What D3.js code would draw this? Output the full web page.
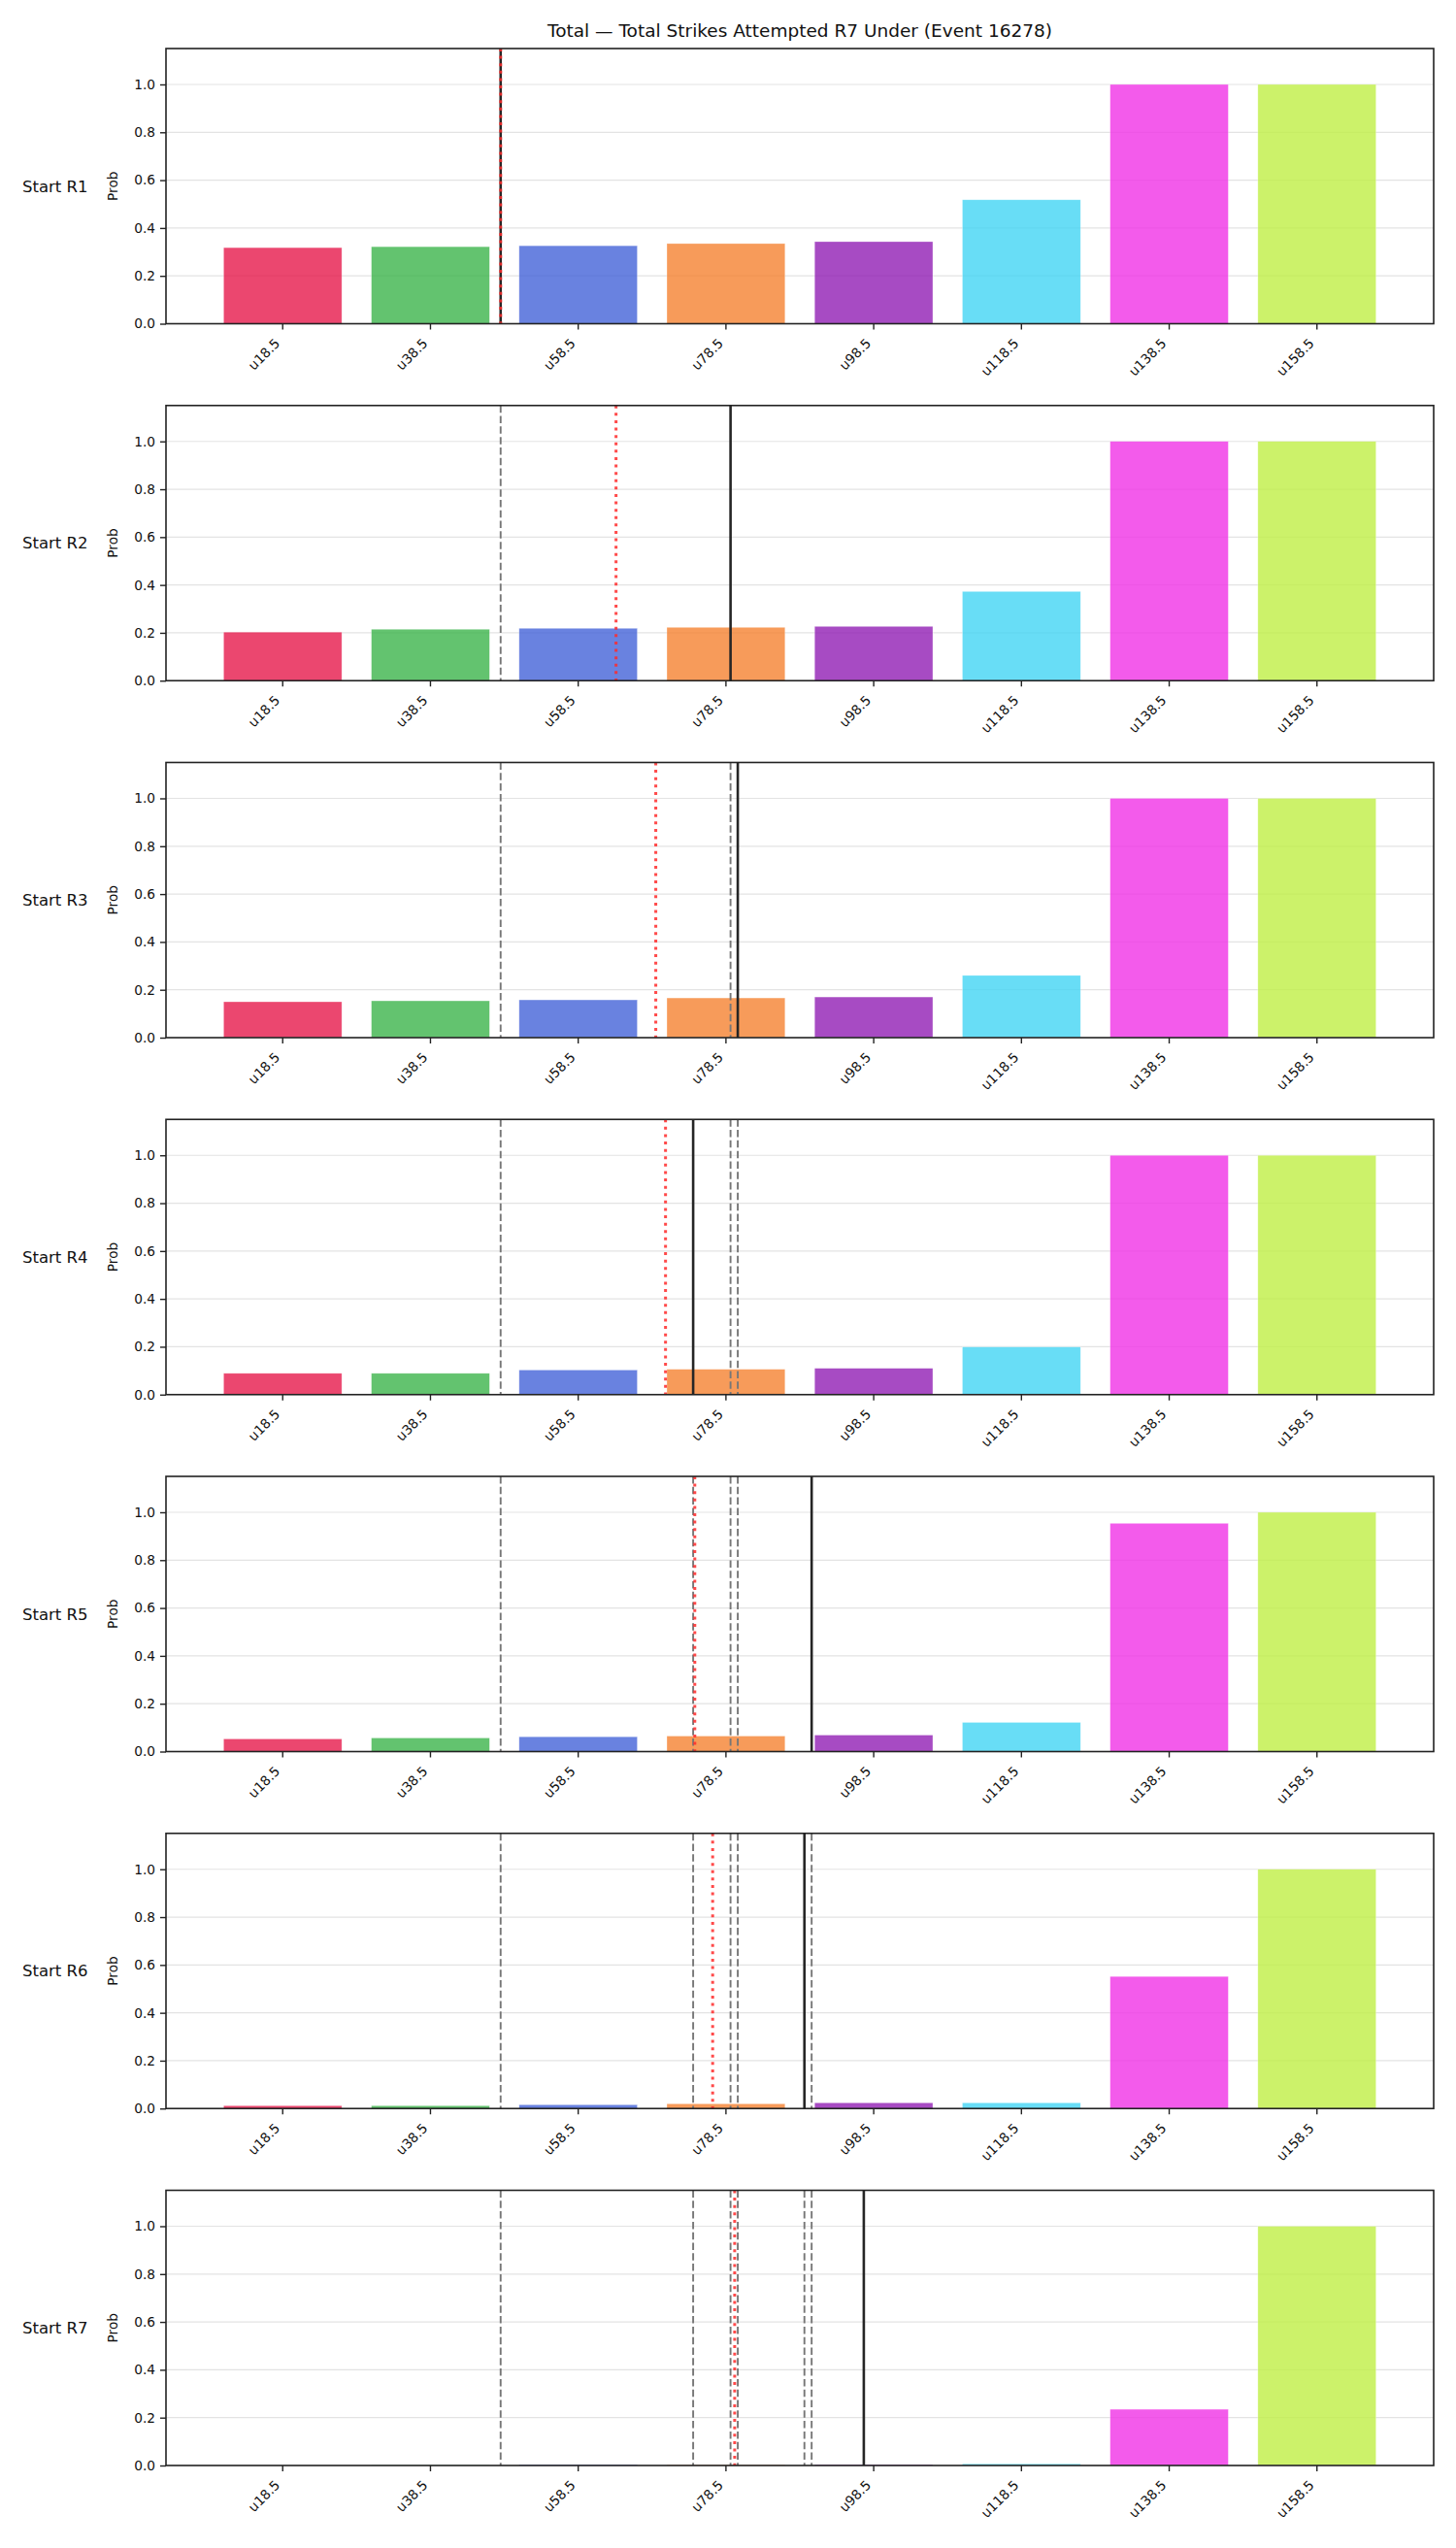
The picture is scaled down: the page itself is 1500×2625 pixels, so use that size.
<!DOCTYPE html>
<html>
<head>
<meta charset="utf-8">
<script src="https://cdn.jsdelivr.net/npm/d3@7"></script>
<style>
  body { margin: 0; background: #fff; }
  text { font-family: "DejaVu Sans", sans-serif; fill: #111; }
</style>
</head>
<body>
<div id="chart"></div>
<script>
// Data
const title = "Total \u2014 Total Strikes Attempted R7 Under (Event 16278)";
const categories = ["u18.5", "u38.5", "u58.5", "u78.5", "u98.5", "u118.5", "u138.5", "u158.5"];
const rounds = ["Start R1", "Start R2", "Start R3", "Start R4", "Start R5", "Start R6", "Start R7"];
const probR1 = [0.318, 0.322, 0.326, 0.335, 0.343, 0.518, 1.0, 1.0];
const probR2 = [0.203, 0.215, 0.219, 0.223, 0.227, 0.373, 1.0, 1.0];
const probR3 = [0.150, 0.154, 0.158, 0.166, 0.170, 0.260, 1.0, 1.0];
const probR4 = [0.089, 0.089, 0.103, 0.106, 0.110, 0.199, 1.0, 1.0];
const probR5 = [0.053, 0.057, 0.062, 0.065, 0.069, 0.122, 0.954, 1.0];
const probR6 = [0.012, 0.012, 0.016, 0.020, 0.024, 0.024, 0.552, 1.0];
const probR7 = [0.000, 0.001, 0.004, 0.003, 0.004, 0.007, 0.235, 1.0];
const probs = [probR1, probR2, probR3, probR4, probR5, probR6, probR7];
// vertical markers, in category-index units
const projLine = [1.475, 3.031, 3.080, 2.778, 3.580, 3.531, 3.933];   // solid black (earlier ones become grey dashed)
const paceLine = [1.475, 2.256, 2.525, 2.591, 2.789, 2.910, 3.059];   // red dotted
const yTicks = [0.0, 0.2, 0.4, 0.6, 0.8, 1.0];
const colors = ["#e6194b", "#3cb44b", "#4363d8", "#f58231", "#911eb4", "#42d4f4", "#f032e6", "#bfef45"];

// Layout
const W = 1500, H = 2625;
const left = 171, right = 1477;
const firstTop = 50, panelStep = 367.75, panelH = 283.5;

const svg = d3.select("#chart").append("svg")
    .attr("width", W)
    .attr("height", H);

svg.append("rect").attr("width", W).attr("height", H).attr("fill", "#fff");

// Title
svg.append("text")
    .attr("x", (left + right) / 2)
    .attr("y", 38)
    .attr("text-anchor", "middle")
    .style("font-size", "18.5px")
    .text(title);

// Scales shared by all panels
const x = d3.scaleBand()
    .domain(categories)
    .range([left, right])
    .paddingInner(0.2)
    .paddingOuter(0.39);
const xPos = d3.scaleLinear()
    .domain([0, categories.length - 1])
    .range([x(categories[0]) + x.bandwidth() / 2, x(categories[categories.length - 1]) + x.bandwidth() / 2]);
const y = d3.scaleLinear()
    .domain([0, 1.15])
    .range([panelH, 0]);

probs.forEach((vals, r) => {
    const g = svg.append("g")
        .attr("transform", `translate(0,${firstTop + r * panelStep})`);

    // horizontal grid
    g.selectAll(".grid")
        .data(yTicks.slice(1))
        .enter().append("line")
        .attr("x1", left).attr("x2", right)
        .attr("y1", d => y(d)).attr("y2", d => y(d))
        .attr("stroke", "#e3e3e3")
        .attr("stroke-width", 1.2);

    // bars
    g.selectAll(".bar")
        .data(vals)
        .enter().append("rect")
        .attr("x", (d, i) => x(categories[i]))
        .attr("width", x.bandwidth())
        .attr("y", d => y(d))
        .attr("height", d => y(0) - y(d))
        .attr("fill", (d, i) => colors[i])
        .attr("fill-opacity", 0.8)
        .attr("stroke", "#fff")
        .attr("stroke-opacity", 0.5)
        .attr("stroke-width", 0.6);

    // earlier projections: grey dashed
    g.selectAll(".prev")
        .data(projLine.slice(0, r))
        .enter().append("line")
        .attr("x1", d => xPos(d)).attr("x2", d => xPos(d))
        .attr("y1", 0).attr("y2", panelH)
        .attr("stroke", "#777")
        .attr("stroke-width", 1.9)
        .attr("stroke-dasharray", "7.5,3.3");

    // current projection: solid black
    g.append("line")
        .attr("x1", xPos(projLine[r])).attr("x2", xPos(projLine[r]))
        .attr("y1", 0).attr("y2", panelH)
        .attr("stroke", "#262626")
        .attr("stroke-width", 2.6);

    // red dotted marker
    g.append("line")
        .attr("x1", xPos(paceLine[r])).attr("x2", xPos(paceLine[r]))
        .attr("y1", 0).attr("y2", panelH)
        .attr("stroke", "#ff2a2a")
        .attr("stroke-opacity", 0.85)
        .attr("stroke-width", 3)
        .attr("stroke-dasharray", "3,4.6");

    // frame
    g.append("rect")
        .attr("x", left).attr("y", 0)
        .attr("width", right - left).attr("height", panelH)
        .attr("fill", "none")
        .attr("stroke", "#222")
        .attr("stroke-width", 1.6);

    // y axis
    const ya = g.append("g")
        .attr("transform", `translate(${left},0)`)
        .call(d3.axisLeft(y).tickValues(yTicks).tickFormat(d3.format(".1f")).tickSize(6).tickPadding(5));
    ya.select(".domain").remove();
    ya.selectAll("line").attr("stroke", "#222").attr("stroke-width", 1.4);
    ya.selectAll("text").style("font-size", "13.7px").attr("fill", "#111");

    // x axis
    const xa = g.append("g")
        .attr("transform", `translate(0,${panelH})`)
        .call(d3.axisBottom(x).tickSize(6).tickPadding(0));
    xa.select(".domain").remove();
    xa.selectAll("line").attr("stroke", "#222").attr("stroke-width", 1.4);
    xa.selectAll("text")
        .style("font-size", "13.7px")
        .attr("fill", "#111")
        .attr("y", 0)
        .attr("dy", 0)
        .style("text-anchor", "end")
        .attr("transform", "translate(-2,21) rotate(-45)");

    // y label
    g.append("text")
        .attr("transform", `translate(121,${panelH / 2}) rotate(-90)`)
        .attr("text-anchor", "middle")
        .style("font-size", "13.7px")
        .text("Prob");

    // round label
    g.append("text")
        .attr("x", 23)
        .attr("y", panelH / 2)
        .attr("dy", "0.35em")
        .style("font-size", "16.5px")
        .text(rounds[r]);
});
</script>
</body>
</html>
